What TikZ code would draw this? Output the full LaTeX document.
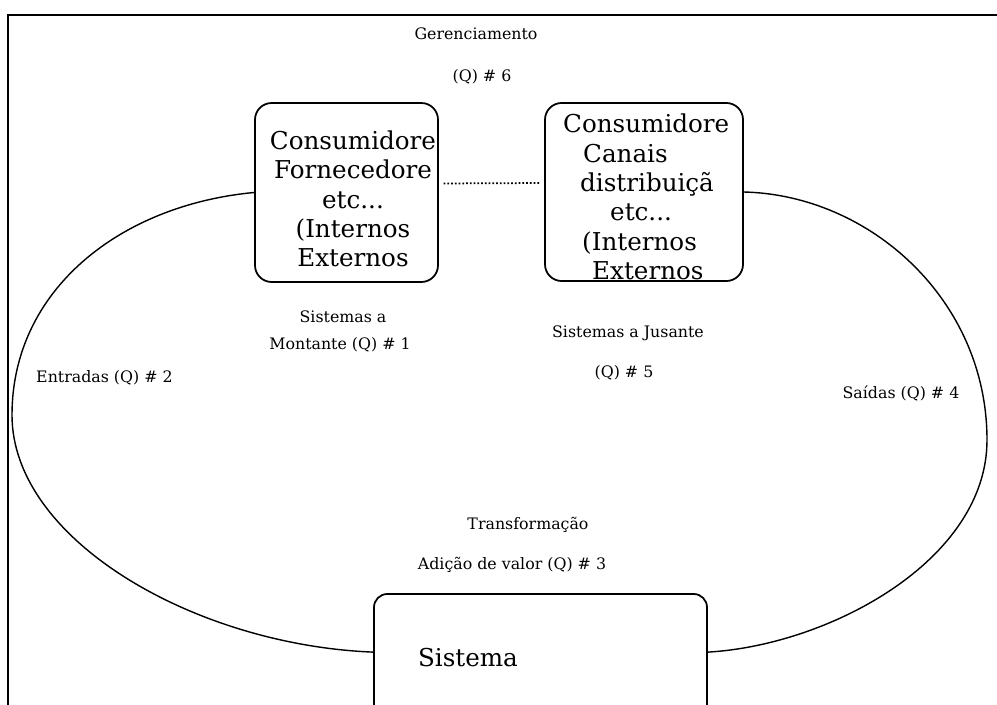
\documentclass[tikz,border=0pt]{standalone}
\usepackage{fontspec}
\setmainfont{DejaVu Serif}
\usetikzlibrary{calc}
\begin{document}
\begin{tikzpicture}[x=0.03cm,y=-0.03cm,
  frame/.style={line width=1.6pt},
  loop/.style={line width=1.2pt},
  card/.style={draw, line width=1.5pt, rounded corners=0.5cm, fill=white, inner sep=0pt},
  bigtext/.style={font=\fontsize{21}{25}\selectfont, inner sep=0pt},
  smalltext/.style={font=\fontsize{13.5}{16}\selectfont, inner sep=0pt},
  dotline/.style={line width=1.5pt, dash pattern=on 1.6pt off 1.6pt, shorten <=4pt, shorten >=4pt}]
\useasboundingbox (0,0) rectangle (997,705);
\begin{scope}
\clip (0,0) rectangle (997,705);
% outer frame (top and left edges only)
\draw[frame] (8,705) -- (8,15) -- (997,15);

% the three boxes
\node[card, minimum width=5.49cm, minimum height=5.37cm] (L) at (346.5,192.5) {};
\node[card, minimum width=5.94cm, minimum height=5.34cm] (R) at (644,192) {};
\node[card, minimum width=9.99cm, minimum height=4.98cm, rounded corners=0.4cm] (S) at (540.5,677) {};

% closed loop through the boxes
\coordinate (SL) at ($(S.north west)+(0,59)$);
\coordinate (SR) at ($(S.north east)+(0,59)$);
\coordinate (W) at (12,415);
\coordinate (E) at (987,440);
\draw[loop] (L.west) .. controls (120,205) and (12,290) .. (W)
  .. controls (12,540) and (195,645) .. (SL);
\draw[loop] (SR) .. controls (830,645) and (987,560) .. (E)
  .. controls (987,300) and (870,195) .. (R.east);

% dotted link between upper boxes
\draw[dotline] ([yshift=0.27cm]L.east) -- ([yshift=0.27cm]R.west);

% box contents
\node[bigtext, align=center] (Ltxt) at (353,199)
  {Consumidore\\Fornecedore\\etc...\\(Internos\\Externos};
\node[bigtext, align=left, anchor=west] (Rtxt) at (563,197)
  {Consumidore\\\hspace*{0.6cm}Canais\\\hspace*{0.51cm}distribuiçã\\\hspace*{1.41cm}etc...\\\hspace*{0.57cm}(Internos\\\hspace*{0.87cm}Externos};
\node[bigtext] (sist) at (468,658) {Sistema};

% labels
\node[smalltext] (ger) at (476,34) {Gerenciamento};
\node[smalltext] (q6) at (482,77) {(Q) \# 6};
\node[smalltext] (mont1) at (343,317) {Sistemas a};
\node[smalltext] (mont2) at (340,345) {Montante (Q) \# 1};
\node[smalltext] (jus1) at (628,333) {Sistemas a Jusante};
\node[smalltext] (jus2) at (624,373) {(Q) \# 5};
\node[smalltext, anchor=west] (ent) at (36,378) {Entradas (Q) \# 2};
\node[smalltext] (sai) at (901,393) {Saídas (Q) \# 4};
\node[smalltext] (trans) at (528,525) {Transformação};
\node[smalltext] (adic) at (512,565) {Adição de valor (Q) \# 3};
\end{scope}
\end{tikzpicture}
\end{document}
